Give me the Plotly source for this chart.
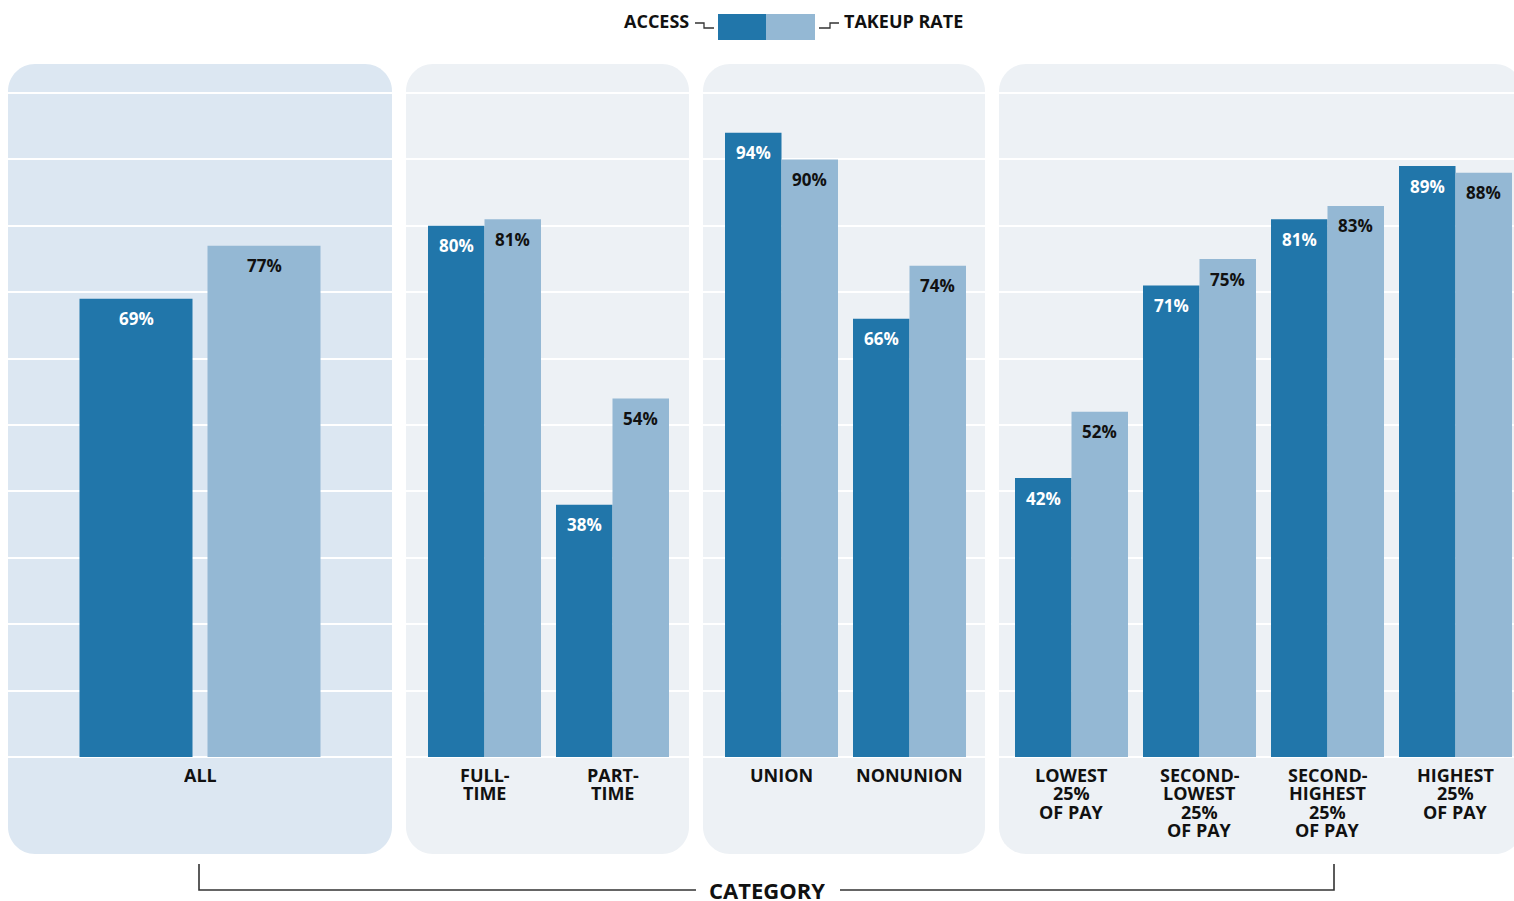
import plotly.graph_objects as go

# ---------------- data ----------------
categories = ["ALL", "FULL-TIME", "PART-TIME", "UNION", "NONUNION",
              "LOWEST 25% OF PAY", "SECOND-LOWEST 25% OF PAY",
              "SECOND-HIGHEST 25% OF PAY", "HIGHEST 25% OF PAY"]
category_lines = [["ALL"], ["FULL-", "TIME"], ["PART-", "TIME"], ["UNION"], ["NONUNION"],
                  ["LOWEST", "25%", "OF PAY"], ["SECOND-", "LOWEST", "25%", "OF PAY"],
                  ["SECOND-", "HIGHEST", "25%", "OF PAY"], ["HIGHEST", "25%", "OF PAY"]]
access = [69, 80, 38, 94, 66, 42, 71, 81, 89]
takeup = [77, 81, 54, 90, 74, 52, 75, 83, 88]
panel_sizes = [1, 2, 2, 4]
series_names = ["ACCESS", "TAKEUP RATE"]
axis_title = "CATEGORY"

# ---------------- style ----------------
W, H = 1514, 901
DARK = "#2176aa"
LIGHT = "#94b8d4"
BG_ALL = "#dce7f2"
BG = "#edf1f5"
FONT = "Open Sans"
UNIT = 128.0          # px per category slot
PXPCT = 6.64          # px per percentage point
BASE = 757            # baseline px
TOP = 64              # panel top px
BOTTOM = 854          # panel bottom px
R = 27                # corner radius px

# panel geometry: left px, right px (domain), shape right px, first category centre px, bar width px, gap px, bg
panels = [
    dict(x0=8, x1=392, sx1=392, c0=200, bw=113, gap=15, bg=BG_ALL),
    dict(x0=406, x1=689, sx1=689, c0=484.5, bw=56.5, gap=0, bg=BG),
    dict(x0=703, x1=985, sx1=985, c0=781.5, bw=56.5, gap=0, bg=BG),
    dict(x0=999, x1=1514, sx1=1522, c0=1071.5, bw=56.5, gap=0, bg=BG),
]


def fx(px):
    return px / W


def fy(py):
    return 1 - py / H


def rrect(x0, y0, x1, y1, r):
    k = 0.5523 * r
    pts = [
        ("M", [(x0 + r, y0)]),
        ("L", [(x1 - r, y0)]),
        ("C", [(x1 - r + k, y0), (x1, y0 + r - k), (x1, y0 + r)]),
        ("L", [(x1, y1 - r)]),
        ("C", [(x1, y1 - r + k), (x1 - r + k, y1), (x1 - r, y1)]),
        ("L", [(x0 + r, y1)]),
        ("C", [(x0 + r - k, y1), (x0, y1 - r + k), (x0, y1 - r)]),
        ("L", [(x0, y0 + r)]),
        ("C", [(x0, y0 + r - k), (x0 + r - k, y0), (x0 + r, y0)]),
    ]
    s = ""
    for cmd, ps in pts:
        s += cmd + " ".join(f"{fx(a):.6f},{fy(b):.6f}" for a, b in ps) + " "
    return s + "Z"


fig = go.Figure()
layout = {}
shapes = []
annotations = []

yrange = [0, (BASE - TOP) / PXPCT]
start = 0
for p_i, (p, n) in enumerate(zip(panels, panel_sizes)):
    k = p_i + 1
    xa = "x" if k == 1 else f"x{k}"
    ya = "y" if k == 1 else f"y{k}"
    idx = list(range(start, start + n))
    start += n
    bw = p["bw"] / UNIT
    gap = p["gap"] / UNIT
    off_dark = -gap / 2 - bw
    off_light = gap / 2
    pos = list(range(n))

    fig.add_trace(go.Bar(x=pos, y=[access[i] for i in idx], width=bw, offset=off_dark,
                         marker=dict(color=DARK, line=dict(width=0)), name=series_names[0],
                         showlegend=False, xaxis=xa, yaxis=ya, hoverinfo="skip"))
    fig.add_trace(go.Bar(x=pos, y=[takeup[i] for i in idx], width=bw, offset=off_light,
                         marker=dict(color=LIGHT, line=dict(width=0)), name=series_names[1],
                         showlegend=False, xaxis=xa, yaxis=ya, hoverinfo="skip"))

    layout["xaxis" if k == 1 else f"xaxis{k}"] = dict(
        domain=[fx(p["x0"]), fx(p["x1"])],
        range=[(p["x0"] - p["c0"]) / UNIT, (p["x1"] - p["c0"]) / UNIT],
        anchor=ya, showgrid=False, zeroline=False, showline=False,
        showticklabels=False, ticks="", fixedrange=True)
    layout["yaxis" if k == 1 else f"yaxis{k}"] = dict(
        domain=[fy(BASE), fy(TOP)], range=yrange, anchor=xa,
        showgrid=True, gridcolor="#ffffff", gridwidth=2, tick0=0, dtick=10,
        zeroline=True, zerolinecolor="#ffffff", zerolinewidth=2,
        showline=False, showticklabels=False, ticks="", fixedrange=True)

    shapes.append(dict(type="path", xref="paper", yref="paper", layer="below",
                       path=rrect(p["x0"], TOP, p["sx1"], BOTTOM, R),
                       fillcolor=p["bg"], line=dict(width=0)))

    for j, i in enumerate(idx):
        # value labels
        for val, off, col in ((access[i], off_dark, "#ffffff"), (takeup[i], off_light, "#111111")):
            annotations.append(dict(x=j + off + bw / 2, y=val, xref=xa, yref=ya,
                                    text=f"<b>{val}%</b>", showarrow=False,
                                    yanchor="middle", xanchor="center", yshift=-20,
                                    font=dict(family=FONT, size=17, color=col)))
        # category labels, one annotation per line for tight leading
        for li, line in enumerate(category_lines[i]):
            annotations.append(dict(x=j, y=fy(774.5 + li * 18.6), xref=xa, yref="paper",
                                    text=f"<b>{line}</b>", showarrow=False,
                                    yanchor="middle", xanchor="center", valign="middle",
                                    height=18, borderpad=0,
                                    font=dict(family=FONT, size=18, color="#111111")))

# ---------------- legend (top) ----------------
LY = 21
annotations.append(dict(x=fx(691), y=fy(LY), xref="paper", yref="paper",
                        text=f"<b>{series_names[0]}</b>", showarrow=False,
                        xanchor="right", yanchor="middle",
                        font=dict(family=FONT, size=18, color="#111111")))
annotations.append(dict(x=fx(842), y=fy(LY), xref="paper", yref="paper",
                        text=f"<b>{series_names[1]}</b>", showarrow=False,
                        xanchor="left", yanchor="middle",
                        font=dict(family=FONT, size=18, color="#111111")))
shapes.append(dict(type="rect", xref="paper", yref="paper", x0=fx(718), x1=fx(766),
                   y0=fy(40), y1=fy(14), fillcolor=DARK, line=dict(width=0)))
shapes.append(dict(type="rect", xref="paper", yref="paper", x0=fx(766), x1=fx(815),
                   y0=fy(40), y1=fy(14), fillcolor=LIGHT, line=dict(width=0)))


def polyline(pts, color="#333333", width=1.5):
    path = "M" + " L".join(f"{fx(a):.6f},{fy(b):.6f}" for a, b in pts)
    return dict(type="path", xref="paper", yref="paper", path=path,
                line=dict(color=color, width=width))


shapes.append(polyline([(695, 23), (704, 23), (704, 28), (714, 28)], width=1.3))
shapes.append(polyline([(819, 28), (830, 28), (830, 23), (839, 23)], width=1.3))

# ---------------- bottom bracket ----------------
shapes.append(polyline([(199, 864), (199, 890), (696, 890)], width=1.6))
shapes.append(polyline([(840, 890), (1334, 890), (1334, 864)], width=1.6))
annotations.append(dict(x=fx(767), y=fy(890), xref="paper", yref="paper",
                        text=f"<b>{axis_title}</b>", showarrow=False,
                        xanchor="center", yanchor="middle", valign="middle",
                        height=20, borderpad=0,
                        font=dict(family=FONT, size=22, color="#111111")))

fig.update_layout(
    width=W, height=H, margin=dict(l=0, r=0, t=0, b=0),
    paper_bgcolor="#ffffff", plot_bgcolor="rgba(0,0,0,0)",
    showlegend=False, barmode="overlay",
    shapes=shapes, annotations=annotations,
    font=dict(family=FONT),
    **layout,
)

fig.write_html("out.html", config={"displayModeBar": False})
